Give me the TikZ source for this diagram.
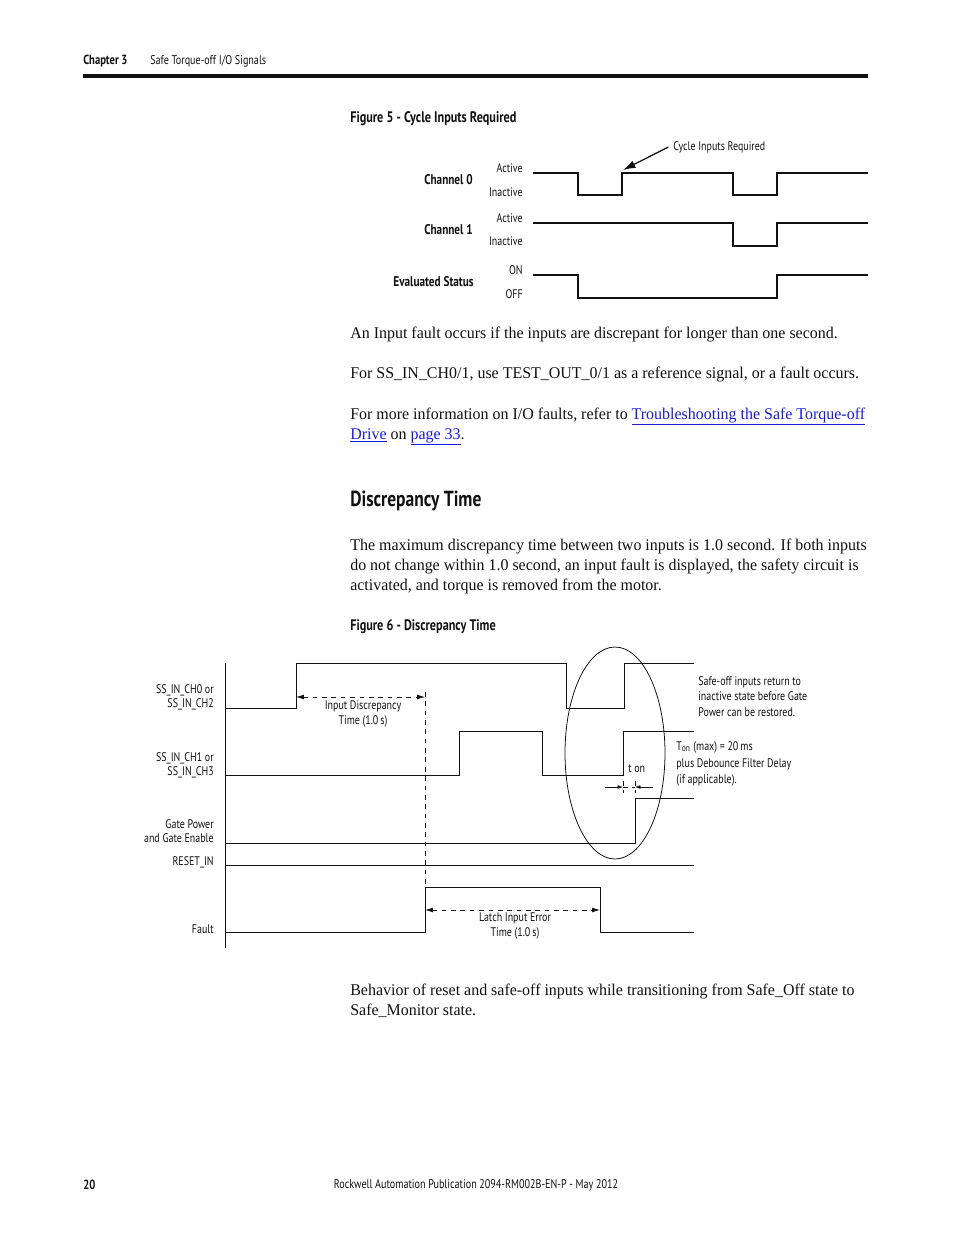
\documentclass[tikz,border=0pt]{standalone}
\usepackage{fontspec}
\setmainfont[FakeStretch=0.975]{Liberation Serif}
\newfontfamily\condsans[FakeStretch=0.8]{PT Sans}
\usepackage{tikz}
\usetikzlibrary{
arrows.meta,
positioning,
calc
}
\definecolor{RALink}{HTML}{1A1AE6}
\definecolor{RAInk}{HTML}{111111}
\tikzset{
pagetext/.style={inner sep=0pt, text=RAInk, font=\fontsize{10.5}{13}\selectfont},
headbold/.style={inner sep=0pt, text=RAInk, font=\condsans\bfseries\fontsize{8.5}{10}\selectfont},
headtext/.style={inner sep=0pt, text=RAInk, font=\condsans\fontsize{8.1}{10}\selectfont},
figtitle/.style={inner sep=0pt, text=RAInk, font=\condsans\bfseries\fontsize{9.8}{11}\selectfont},
sectitle/.style={inner sep=0pt, text=RAInk, font=\condsans\bfseries\fontsize{14}{16}\selectfont},
chanlbl/.style={inner sep=0pt, text=RAInk, font=\condsans\bfseries\fontsize{9}{10}\selectfont},
siglbl/.style={inner sep=0pt, text=RAInk, font=\condsans\fontsize{8}{9.2}\selectfont},
notelbl/.style={inner sep=0pt, text=RAInk, align=left, font=\condsans\fontsize{8}{10}\selectfont},
wavefive/.style={draw=RAInk, line width=1.3pt},
wavesix/.style={draw=RAInk, line width=0.6pt},
dimarrow/.style={{Latex[length=5pt,width=3pt]}-{Latex[length=5pt,width=3pt]}, dashed, draw=RAInk, line width=0.5pt},
callout/.style={-{Latex[length=8pt,width=5pt]}, draw=RAInk, line width=0.8pt},
tonarrow/.style={-{Latex[length=3.5pt,width=2.5pt]}, draw=RAInk, line width=0.4pt}
}
\newcommand{\linktext}[1]{\textcolor{RALink}{\underline{#1}}}

\begin{document}
\begin{tikzpicture}[x=0.6415pt, y=-0.6415pt]
\useasboundingbox[fill=white] (0,0) rectangle (954,1235);

% page header
\node[headbold, anchor=west] (chapnum) at (83,61) {Chapter 3};
\node[headtext, anchor=west] (chaptitle) at (150,61) {Safe Torque-off I/O Signals};
\draw[RAInk, line width=2pt] (83,76) -- (868,76);

% Figure 5
\node[figtitle, anchor=west] (figfive) at (350,118.5) {Figure 5 - Cycle Inputs Required};

\draw[wavefive] (533,173) -| (578,195) -| (622,173) -| (733,195) -| (777,173) -- (868,173);
\draw[wavefive] (533,223) -| (733,246) -| (777,223) -- (868,223);
\draw[wavefive] (533,275) -| (578,298) -| (777,275) -- (868,275);

\node[siglbl, anchor=east] (actzero) at (523,168) {Active};
\node[siglbl, anchor=east] (inactzero) at (523,192) {Inactive};
\node[siglbl, anchor=east] (actone) at (523,218) {Active};
\node[siglbl, anchor=east] (inactone) at (523,241) {Inactive};
\node[siglbl, anchor=east] (onstate) at (523,270) {ON};
\node[siglbl, anchor=east] (offstate) at (523,294) {OFF};
\node[chanlbl, anchor=east] (chzero) at (473,180) {Channel 0};
\node[chanlbl, anchor=east] (chone) at (473,230) {Channel 1};
\node[chanlbl, anchor=east] (evalstat) at (474,282) {Evaluated Status};

\node[siglbl, anchor=west] (cyclelbl) at (673,147) {Cycle Inputs Required};
\coordinate (cycletip) at (623,170);
\draw[callout] ([xshift=-3pt]cyclelbl.west) -- (cycletip);

% text between the figures
\node[pagetext, anchor=base west] (parafault) at (350,338) {An Input fault occurs if the inputs are discrepant for longer than one second.};
\node[pagetext, anchor=base west] (pararef) at (350,378) {For SS\_IN\_CH0/1, use TEST\_OUT\_0/1 as a reference signal, or a fault occurs.};
\node[pagetext, anchor=base west] (parainfo) at (350,419) {For more information on I/O faults, refer to \linktext{Troubleshooting the Safe Torque-off}};
\node[pagetext, anchor=base west] (parainfob) at (350,439) {\linktext{Drive} on \linktext{page 33}.};

\node[sectitle, anchor=base west] (discsec) at (350,506) {Discrepancy Time};
\node[pagetext, anchor=base west] (paradisc) at (350,550) {The maximum discrepancy time between two inputs is 1.0 second. If both inputs};
\node[pagetext, anchor=base west] (paradiscb) at (350,570) {do not change within 1.0 second, an input fault is displayed, the safety circuit is};
\node[pagetext, anchor=base west] (paradiscc) at (350,590) {activated, and torque is removed from the motor.};

% Figure 6
\node[figtitle, anchor=west] (figsix) at (350,626.5) {Figure 6 - Discrepancy Time};

\draw[wavesix] (225,663) -- (225,948);
\draw[wavesix] (225,708) -| (296,663) -| (566,708) -| (624,663) -- (694,663);
\draw[wavesix] (225,775) -| (459,731) -| (542,775) -| (623,731) -- (694,731);
\draw[wavesix] (225,843) -| (635,798) -- (694,798);
\draw[wavesix] (225,865) -- (694,865);
\draw[wavesix] (225,932) -| (425,887) -| (600,932) -- (694,932);
\draw[RAInk, dashed, line width=0.5pt] (425,692) -- (425,887);

\node[siglbl, anchor=east, align=right] (chzerolbl) at (214,697) {SS\_IN\_CH0 or\\SS\_IN\_CH2};
\node[siglbl, anchor=east, align=right] (chonelbl) at (214,765) {SS\_IN\_CH1 or\\SS\_IN\_CH3};
\node[siglbl, anchor=east, align=right] (gatelbl) at (214,831) {Gate Power\\and Gate Enable};
\node[siglbl, anchor=east] (resetlbl) at (214,862) {RESET\_IN};
\node[siglbl, anchor=east] (faultlbl) at (214,929) {Fault};

\coordinate (discstart) at (296,697);
\coordinate (discend) at (425,697);
\draw[dimarrow] (discstart) -- (discend);
\node[siglbl, align=center] (disclbl) at (363,714) {Input Discrepancy\\Time (1.0\,s)};

\coordinate (latchstart) at (425,910);
\coordinate (latchend) at (600,910);
\draw[dimarrow] (latchstart) -- (latchend);
\node[siglbl, align=center] (latchlbl) at (515,926) {Latch Input Error\\Time (1.0\,s)};

\draw[RAInk, line width=0.5pt] (615,753) ellipse [x radius=50, y radius=106];

\coordinate (tonleft) at (623,787);
\coordinate (tonright) at (635,787);
\draw[tonarrow] ($(tonleft)+(-18,0)$) -- (tonleft);
\draw[tonarrow] ($(tonright)+(18,0)$) -- (tonright);
\draw[RAInk, dashed, line width=0.4pt] (tonleft) -- (tonright);
\draw[RAInk, dashed, line width=0.4pt] ($(tonleft)+(0,-6)$) -- ($(tonleft)+(0,6)$);
\draw[RAInk, dashed, line width=0.4pt] ($(tonright)+(0,-6)$) -- ($(tonright)+(0,6)$);
\node[siglbl, anchor=west] (tonlbl) at (628,769) {t on};

\node[notelbl, anchor=north west] (safenote) at (698,676) {Safe-off inputs return to\\inactive state before Gate\\Power can be restored.};
\node[notelbl, anchor=north west, font=\condsans\fontsize{8}{10.8}\selectfont] (tonnote) at (676,741) {T\textsubscript{on} (max) = 20\,ms\\plus Debounce Filter Delay\\(if applicable).};

% text below Figure 6
\node[pagetext, anchor=base west] (parareset) at (350,995) {Behavior of reset and safe-off inputs while transitioning from Safe\_Off state to};
\node[pagetext, anchor=base west] (pararesetb) at (350,1015) {Safe\_Monitor state.};

% page footer
\node[headbold, anchor=west] (pagenum) at (83,1185) {20};
\node[headtext] (pubinfo) at (476,1185) {Rockwell Automation Publication 2094-RM002B-EN-P - May 2012};
\end{tikzpicture}
\end{document}
